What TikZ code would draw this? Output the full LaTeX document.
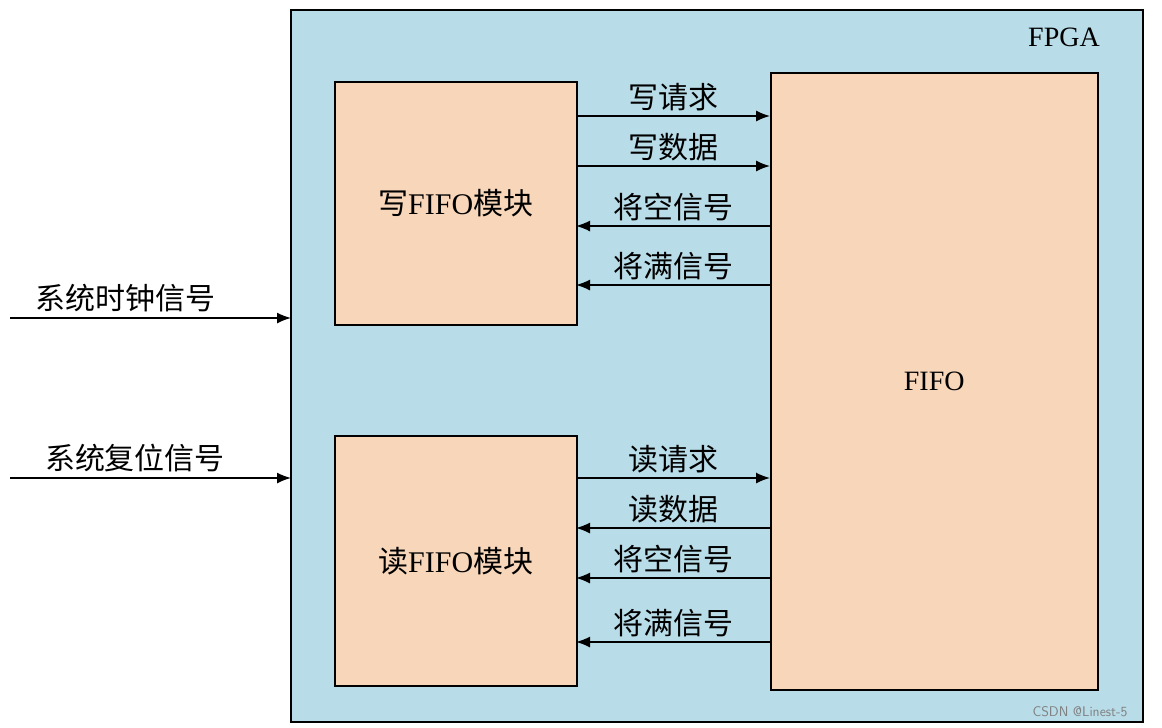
\documentclass[tikz,border=0pt]{standalone}
\usepackage{fontspec}
\setmainfont{Liberation Serif}
\newfontfamily\cjk{Noto Sans CJK SC}
\usetikzlibrary{arrows.meta}
\begin{document}
\begin{tikzpicture}[x=1pt,y=-1pt,
  blk/.style={draw=black,line width=1.5pt,fill={rgb,255:red,248;green,214;blue,186}},
  sig/.style={line width=1.5pt,-{Latex[length=14pt,width=11pt]}},
  lab/.style={font=\cjk\fontsize{30}{32}\selectfont,inner sep=0pt}]
\useasboundingbox (0,0) rectangle (1162,728);
\draw[line width=1.5pt,fill={rgb,255:red,184;green,220;blue,232}] (291,10) rectangle (1143,722);
\node[font=\fontsize{28}{30}\selectfont] (fpga) at (1064,37) {FPGA};
\node[blk,minimum width=242pt,minimum height=243pt,anchor=north west] (w) at (334,81) {};
\node[lab] at (w.center) {写\rmfamily FIFO\cjk 模块};
\node[blk,minimum width=242pt,minimum height=250pt,anchor=north west] (r) at (334,435) {};
\node[lab] at (r.center) {读\rmfamily FIFO\cjk 模块};
\node[blk,minimum width=327pt,minimum height=617pt,anchor=north west] (f) at (770,72) {};
\node[font=\fontsize{28}{30}\selectfont] at (f.center) {FIFO};
\foreach \y/\t/\d in {116/写请求/1,166/写数据/1,226/将空信号/0,285/将满信号/0,478/读请求/1,528/读数据/0,578/将空信号/0,642/将满信号/0}{
  \coordinate (a\y) at (576,\y);
  \coordinate (b\y) at (770,\y);
  \ifnum\d=1 \draw[sig] (a\y) -- (b\y); \else \draw[sig] (b\y) -- (a\y); \fi
  \node[lab,anchor=south] (l\y) at (673,\y-5) {\t};
}
\coordinate (c1) at (10,318);
\coordinate (c2) at (291,318);
\draw[sig] (c1) -- (c2);
\node[lab,anchor=south] (t1) at (125,312) {系统时钟信号};
\coordinate (d1) at (10,478);
\coordinate (d2) at (291,478);
\draw[sig] (d1) -- (d2);
\node[lab,anchor=south] (t2) at (135,472) {系统复位信号};
\node[font=\sffamily\fontsize{14}{16}\selectfont,text=gray] (csdn) at (1080,712) {CSDN @Linest-5};
\end{tikzpicture}
\end{document}
